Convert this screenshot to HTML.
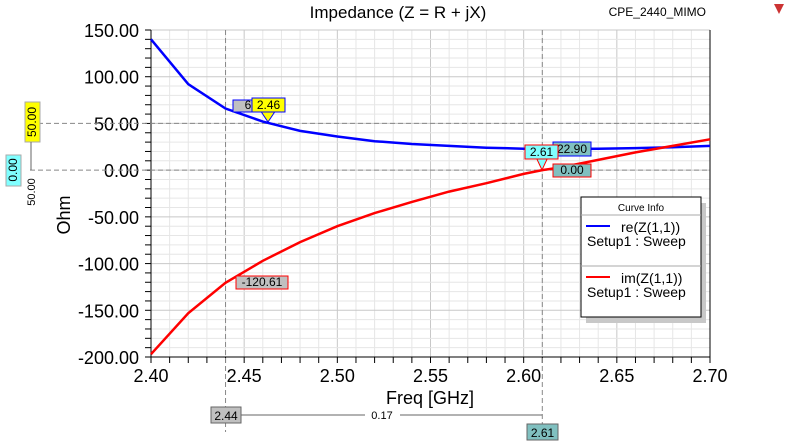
<!DOCTYPE html>
<html><head><meta charset="utf-8"><style>
body{margin:0;background:#fff;}
svg{display:block;font-family:"Liberation Sans",sans-serif;}
</style></head><body>
<svg id="c" width="796" height="442" viewBox="0 0 796 442"></svg>
<script>
const freqs=[2.40,2.42,2.44,2.46,2.48,2.50,2.52,2.54,2.56,2.58,2.60,2.61,2.62,2.64,2.66,2.68,2.70];
const reVals=[140,92,66,52,42,36,31,28,26,24,23,22.9,22.6,23,23.6,24.5,26];
const imVals=[-197,-153,-120.61,-97,-77,-60,-46,-34,-23,-14,-4,0,3,11,19,26,33];
const xTicks=[2.40,2.45,2.50,2.55,2.60,2.65,2.70];
const yTicks=[150,100,50,0,-50,-100,-150,-200];
const X0=151,X1=710,Y0=30,Y1=357;
const xs=v=>X0+(v-2.40)/0.30*(X1-X0);
const ys=v=>Y0+(150-v)/350*(Y1-Y0);
const svg=document.getElementById('c');const NS='http://www.w3.org/2000/svg';
function mk(t,a,p){const e=document.createElementNS(NS,t);for(const k in a)e.setAttribute(k,a[k]);(p||svg).appendChild(e);return e;}
function tx(x,y,s,a){const e=mk('text',Object.assign({x:x,y:y},a));e.textContent=s;return e;}
// grid
for(let i=0;i<=30;i++){const x=X0+i*(X1-X0)/30;const l=mk('line',{x1:x,x2:x,y1:Y0,y2:Y1,stroke:i%5==0?'#c8c8c8':'#e6e6e6'});
}
for(let v=-200;v<=150;v+=10){const y=ys(v);const l=mk('line',{x1:X0,x2:X1,y1:y,y2:y,stroke:v%50==0?'#c8c8c8':'#e6e6e6'});
}
// axes
let a=mk('line',{x1:X0,x2:X0,y1:Y0,y2:Y1,stroke:'#000'});
a=mk('line',{x1:X0,x2:X1,y1:Y1,y2:Y1,stroke:'#000'});
a=mk('line',{x1:X1,x2:X1,y1:Y0,y2:Y1,stroke:'#000'});
for(let i=0;i<=30;i++){const x=X0+i*(X1-X0)/30;mk('line',{x1:x,x2:x,y1:Y1,y2:Y1+6,stroke:'#000'});}
for(let v=-200;v<=150;v+=10){const y=ys(v);mk('line',{x1:X0-6,x2:X0,y1:y,y2:y,stroke:'#000'});}
xTicks.forEach(v=>{const t=tx(xs(v),382,v.toFixed(2),{'font-size':18,'text-anchor':'middle'});});
yTicks.forEach(v=>{const t=tx(139,ys(v)+7,v.toFixed(2),{'font-size':18,'text-anchor':'end'});});
let t=tx(398,18,'Impedance (Z = R + jX)',{'font-size':17,'text-anchor':'middle'});
t=tx(706,16,'CPE_2440_MIMO',{'font-size':12,'text-anchor':'end'});
mk('polygon',{points:'774,4 784,4 779,14',fill:'#c33'});
t=tx(430,404,'Freq [GHz]',{'font-size':18,'text-anchor':'middle'});
t=tx(70,215,'Ohm',{'font-size':18,'text-anchor':'middle',transform:'rotate(-90 70 215)'});
// marker dashed lines
[[xs(2.44)],[xs(2.61)]].forEach(([x])=>{mk('line',{x1:x,x2:x,y1:Y0,y2:432,stroke:'#888','stroke-dasharray':'5,3'});});
[ys(50),ys(0)].forEach(y=>mk('line',{x1:30,x2:X1,y1:y,y2:y,stroke:'#888','stroke-dasharray':'5,3'}));
// series
function series(vals,col,name){const d=freqs.map((f,i)=>(i?'L':'M')+xs(f).toFixed(1)+','+ys(vals[i]).toFixed(1)).join(' ');
const p=mk('path',{d:d,fill:'none',stroke:col,'stroke-width':2.5});}
series(reVals,'#0000ff','re-z11-line');series(imVals,'#ff0000','im-z11-line');
// labels
function box(x,y,w,h,fill,stroke,s,name,rot){const g=mk('g',rot?{transform:rot}:{});
mk('rect',{x:x,y:y,width:w,height:h,fill:fill,stroke:stroke},g);const e=mk('text',{x:x+w/2,y:y+h-3,'font-size':12,'text-anchor':'middle'},g);e.textContent=s;return g;}
box(233,100,30,12,'#c0c0c0','#00f','6','marker-re-244');
mk('polygon',{points:'260,110 276,110 268,122',fill:'#ff0',stroke:'#00f'});
box(252,98,33,14,'#ffff00','#00f','2.46','marker-x-label-246');
box(236,276,52,13,'#c0c0c0','#f00','-120.61','marker-im-244');
box(553,142,38,14,'#80c0c0','#00f','22.90','marker-re-261');
box(553,164,38,13,'#80c0c0','#f00','0.00','marker-im-261');
mk('polygon',{points:'535,155 549,155 542,170',fill:'#80ffff',stroke:'#f00'});
box(525,145,33,14,'#80ffff','#f00','2.61','marker-x-label-261');
box(211,407,30,16,'#c0c0c0','#666','2.44','delta-marker-244');
box(527,424,31,16,'#80c0c0','#666','2.61','delta-marker-261');
mk('line',{x1:241,x2:365,y1:415,y2:415,stroke:'#666'});mk('line',{x1:400,x2:542,y1:415,y2:415,stroke:'#666'});
t=tx(382,419,'0.17',{'font-size':11,'text-anchor':'middle'});
box(25,102,15,40,'#ffff00','#aaa','','y-marker-50-box');
t=tx(0,0,'50.00',{'font-size':12,'text-anchor':'middle',transform:'translate(36,122) rotate(-90)'});
box(6,155,15,31,'#80ffff','#aaa','','y-marker-0-box');
t=tx(0,0,'0.00',{'font-size':12,'text-anchor':'middle',transform:'translate(17,170) rotate(-90)'});
mk('line',{x1:31,x2:31,y1:142,y2:170,stroke:'#666'});
t=tx(0,0,'50.00',{'font-size':11,'text-anchor':'middle',transform:'translate(35,192) rotate(-90)'});
// legend
const lg=mk('g',{});
mk('rect',{x:586,y:203,width:120,height:120,fill:'#c8c8c8'},lg);
mk('rect',{x:581,y:197,width:120,height:120,fill:'#fff',stroke:'#000'},lg);
tx(641,211,'Curve Info',{'font-size':10,'text-anchor':'middle'},lg);
mk('line',{x1:581,x2:701,y1:215,y2:215,stroke:'#aaa'},lg);
mk('line',{x1:581,x2:701,y1:266,y2:266,stroke:'#aaa'},lg);
mk('line',{x1:586,x2:610,y1:226,y2:226,stroke:'#00f','stroke-width':2},lg);
tx(621,232,'re(Z(1,1))',{'font-size':14},lg);tx(587,246,'Setup1 : Sweep',{'font-size':14},lg);
mk('line',{x1:586,x2:610,y1:277,y2:277,stroke:'#f00','stroke-width':2},lg);
tx(621,283,'im(Z(1,1))',{'font-size':14},lg);tx(587,297,'Setup1 : Sweep',{'font-size':14},lg);
</script>
</body></html>
